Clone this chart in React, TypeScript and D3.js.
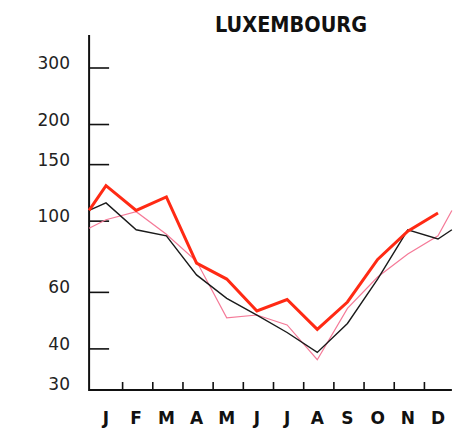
import * as d3 from 'd3';
import React from 'react';

// monthly values (log scale), each series has a lead-in point at the axis
const months = ['J', 'F', 'M', 'A', 'M', 'J', 'J', 'A', 'S', 'O', 'N', 'D'];
const yTicks = [30, 40, 60, 100, 150, 200, 300];

const leadPos = -0.56;
const tailPos = 11.46;

const redLead = 108;
const redValues = [129, 108, 119, 74, 66, 52.5, 57, 46, 56, 76, 93, 106];

const blackLead = 108;
const blackValues = [114, 94, 90, 68, 57.5, 51, 45, 39, 48, 66, 94, 88];
const blackTail = 94;

const pinkLead = 95;
const pinkValues = [101, 107, 91, 75, 50, 51, 47.5, 37, 53.5, 67, 79, 90];
const pinkTail = 108;

const W = 462;
const H = 432;

function buildSeries(lead: number, values: number[], tail?: number) {
    const pts: [number, number][] = [[leadPos, lead]];
    values.forEach((v, i) => pts.push([i, v]));
    if (tail !== undefined) pts.push([tailPos, tail]);
    return pts;
}

function App() {
    const x = d3.scaleLinear().domain([0, 11]).range([106, 438]);
    const y = d3.scaleLog().domain([30, 300]).range([389, 68]);
    const x0 = x(leadPos);
    const x1 = x(tailPos);
    const yTop = 35;
    const yBase = 390;

    const line = d3.line<[number, number]>()
        .x(d => x(d[0]))
        .y(d => y(d[1]));

    const red = buildSeries(redLead, redValues);
    const black = buildSeries(blackLead, blackValues, blackTail);
    const pink = buildSeries(pinkLead, pinkValues, pinkTail);

    return (
        <svg width={W} height={H} style={{ position: 'absolute', left: 0, top: 0, background: '#fff' }}>
            <text x={291} y={32} textAnchor="middle" fontFamily="DejaVu Sans" fontWeight="bold"
                fontSize={22} textLength={152} lengthAdjust="spacingAndGlyphs" fill="#111">LUXEMBOURG</text>

            {/* y axis */}
            <line x1={x0} x2={x0} y1={yTop} y2={yBase + 1} stroke="#111" strokeWidth={2} />
            {yTicks.map(t => (
                <g key={t}>
                    {t !== 30 && <line x1={x0} x2={x0 + 20} y1={y(t)} y2={y(t)} stroke="#111" strokeWidth={1.6} />}
                    <text x={70} y={y(t) - 4} textAnchor="end" dominantBaseline="middle"
                        fontFamily="DejaVu Sans" fontSize={17} fill="#222">{t}</text>
                </g>
            ))}

            {/* x axis */}
            <line x1={x0} x2={x1} y1={yBase} y2={yBase} stroke="#111" strokeWidth={2} />
            {months.slice(0, 11).map((m, i) => (
                <line key={i} x1={x(i + 0.55)} x2={x(i + 0.55)} y1={yBase} y2={yBase - 8} stroke="#111" strokeWidth={1.6} />
            ))}
            {months.map((m, i) => (
                <text key={i} x={x(i)} y={424} textAnchor="middle" fontFamily="DejaVu Sans"
                    fontWeight="bold" fontSize={17} fill="#111">{m}</text>
            ))}

            <path d={line(pink) || ''} fill="none" stroke="#f57a98" strokeWidth={1.2} />
            <path d={line(black) || ''} fill="none" stroke="#1a1a1a" strokeWidth={1.4} />
            <path d={line(red) || ''} fill="none" stroke="#ff2a14" strokeWidth={3} strokeLinejoin="miter" />
        </svg>
    );
}

export default App;
